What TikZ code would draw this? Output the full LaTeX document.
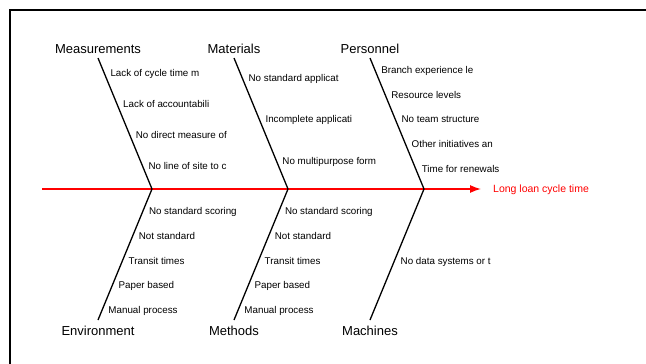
\documentclass[tikz,border=0pt]{standalone}
\usepackage{fontspec}
\setmainfont{Liberation Sans}
\usetikzlibrary{arrows.meta}
\definecolor{fishred}{HTML}{FF0000}
\tikzset{
  bone/.style={black, line width=1.3pt},
  spine/.style={fishred, line width=1.3pt, -{Latex[length=11pt, width=8pt]}},
  category/.style={font=\fontsize{13}{15}\selectfont, inner sep=0pt, anchor=base},
  cause/.style={font=\fontsize{9.8}{11}\selectfont, anchor=west, inner sep=0pt,
    xshift=6pt, text height=7pt, text depth=0pt},
  effect/.style={font=\fontsize{10.5}{12}\selectfont, text=fishred, anchor=west,
    inner sep=0pt, text height=7.5pt, text depth=0pt}
}
% #1 start of bone, #2 end of bone, #3 gap, #4 number of causes, #5 causes
\newcommand{\drawcauses}[5]{
  \foreach \txt [count=\i] in {#5} {
    \pgfmathsetmacro{\ct}{(#3 + (\i - 0.5) * 123 / #4) / 131}
    \path (#1) -- (#2) node[cause, pos=\ct] (#1-\i) {\txt};
  }
}

\begin{document}
\begin{tikzpicture}[x=1pt, y=-1pt]
    \useasboundingbox (0,0) rectangle (646,364);
    \draw[line width=2pt] (10,364) -- (10,10) -- (646,10);

    % spine
    \coordinate (tail) at (42,189);
    \coordinate (head) at (481,189);
    \draw[spine] (tail) -- (head);
    \node[effect] (effect) at ([xshift=12pt]head) {Long loan cycle time};

    % joints and bone ends
    \coordinate (j1) at (152,189);
    \coordinate (j2) at (288,189);
    \coordinate (j3) at (424,189);
    \coordinate (meas) at (98,58);
    \coordinate (mat) at (234,58);
    \coordinate (pers) at (370,58);
    \coordinate (env) at (98,320);
    \coordinate (meth) at (234,320);
    \coordinate (mach) at (370,320);

    \foreach \a/\b in {meas/j1, mat/j2, pers/j3, env/j1, meth/j2, mach/j3} {
      \draw[bone] (\a) -- (\b);
    }

    \node[category, yshift=4.3pt] (measlabel) at (meas) {Measurements};
    \node[category, yshift=4.3pt] (matlabel) at (mat) {Materials};
    \node[category, yshift=4.3pt] (perslabel) at (pers) {Personnel};
    \node[category, yshift=-15.7pt] (envlabel) at (env) {Environment};
    \node[category, yshift=-15.7pt] (methlabel) at (meth) {Methods};
    \node[category, yshift=-15.7pt] (machlabel) at (mach) {Machines};

    \drawcauses{meas}{j1}{0}{4}{Lack of cycle time m, Lack of accountabili,
      No direct measure of, No line of site to c}
    \drawcauses{mat}{j2}{0}{3}{No standard applicat, Incomplete applicati,
      No multipurpose form}
    \drawcauses{pers}{j3}{0}{5}{Branch experience le, Resource levels,
      No team structure, Other initiatives an, Time for renewals}
    \drawcauses{j1}{env}{10}{5}{No standard scoring, Not standard,
      Transit times, Paper based, Manual process}
    \drawcauses{j2}{meth}{10}{5}{No standard scoring, Not standard,
      Transit times, Paper based, Manual process}
    \drawcauses{j3}{mach}{10}{1}{No data systems or t}
\end{tikzpicture}
\end{document}
